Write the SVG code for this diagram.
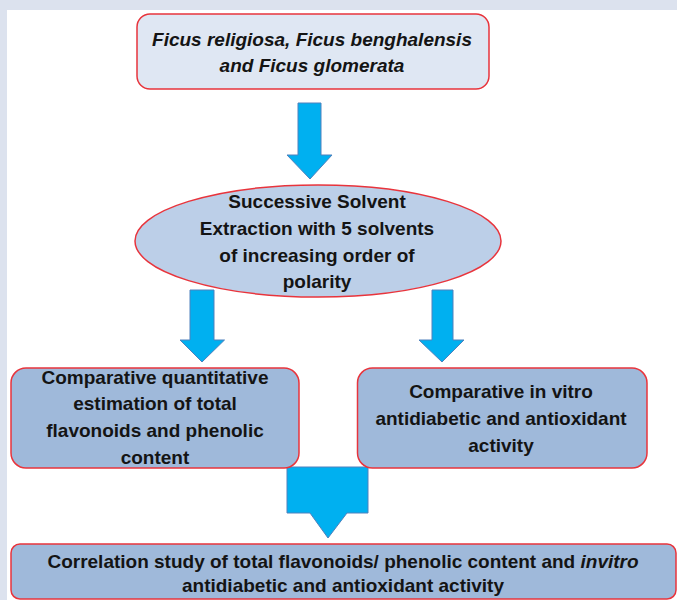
<svg xmlns="http://www.w3.org/2000/svg" width="677" height="600" viewBox="0 0 677 600">
<style>
.bg{fill:#dce2ee}
.panel{fill:#ffffff}
.box{stroke:#e8343c;stroke-width:1.5}
.light{fill:#dfe7f3}
.dark{fill:#9fb9da}
.ell{fill:#bccfe8}
.arrow{fill:#00b0f0;stroke:#4f81bd;stroke-width:1}
text{font-family:"Liberation Sans",Arial,sans-serif;font-weight:bold;font-size:19px;fill:#141414;text-anchor:middle}
.it{font-style:italic}
</style>
<rect class="bg" x="0" y="0" width="677" height="600"/>
<rect class="panel" x="7" y="10" width="670" height="590"/>
<g id="connectors">
<path class="arrow" d="M298,103 H321 V155 H332 L310,179 L287,155 H298 Z"/>
<path class="arrow" d="M190,290 H214 V340 H224.5 L202,362 L180,340 H190 Z"/>
<path class="arrow" d="M432,290 H453 V340 H464 L442,362 L419,340 H432 Z"/>
<path class="arrow" d="M287,467 H368 V513 H347 L328,538 L310,513 H287 Z"/>
</g>
<g id="node-species">
<rect class="box light" x="137" y="14" width="352" height="75" rx="13"/>
<text class="it" x="312" y="46" font-size="18">Ficus religiosa, Ficus benghalensis</text>
<text class="it" x="312" y="72" font-size="18">and Ficus glomerata</text>
</g>
<g id="node-extraction">
<ellipse class="box ell" cx="318" cy="241" rx="183" ry="56"/>
<text x="317" y="208">Successive Solvent</text>
<text x="317" y="235">Extraction with 5 solvents</text>
<text x="317" y="262">of increasing order of</text>
<text x="317" y="288">polarity</text>
</g>
<g id="node-quant">
<rect class="box dark" x="11" y="368" width="288" height="100" rx="15"/>
<text x="155" y="384">Comparative quantitative</text>
<text x="155" y="410">estimation of total</text>
<text x="155" y="437">flavonoids and phenolic</text>
<text x="155" y="464">content</text>
</g>
<g id="node-activity">
<rect class="box dark" x="357.5" y="368" width="289.5" height="100" rx="15"/>
<text x="501" y="398">Comparative in vitro</text>
<text x="501" y="425">antidiabetic and antioxidant</text>
<text x="501" y="452">activity</text>
</g>
<g id="node-correlation">
<rect class="box dark" x="11" y="544" width="665" height="55" rx="9"/>
<text x="343" y="568">Correlation study of total flavonoids/ phenolic content and <tspan class="it">invitro</tspan></text>
<text x="343" y="592">antidiabetic and antioxidant activity</text>
</g>
</svg>
